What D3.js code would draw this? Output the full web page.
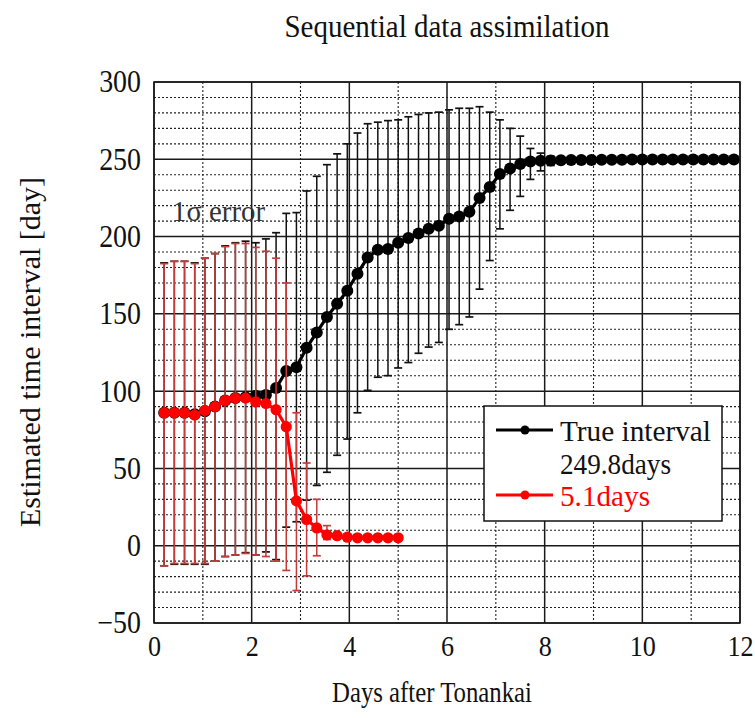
<!DOCTYPE html>
<html lang="en">
<head>
	<meta charset="UTF-8">
	<title>Sequential data assimilation</title>
	<style>
	body{ margin:0; background:#fff; }
	text{ font-family:"Liberation Serif","Times New Roman",serif; fill:#111; }
	</style>
</head>
<body>
<div class="chart"></div>
<script src="https://d3js.org/d3.v7.min.js"></script>
<script>
// time step of the assimilation is 5 hours
var hours = [5,10,15,20,25,30,35,40,45,50,55,60,65,70,75,80,85,90,95,100,
	105,110,115,120,125,130,135,140,145,150,155,160,165,170,175,180,185,190,195,200,
	205,210,215,220,225,230,235,240,245,250,255,260,265,270,275,280,285];

// true interval 249.8 days (black)
var trueMean = [86,86,86,85,87,90,94,95.5,96,97,
	97.5,102,113,115.5,128,138,148,156.5,165,176,
	186.5,191.5,192,196,199,202,205,207,211.5,213,
	216,225,232,240.5,244,247,248.5,249,249.2,249.4,
	249.5,249.6,249.6,249.7,249.7,249.7,249.8,249.8,249.8,249.8,
	249.8,249.8,249.8,249.8,249.8,249.8,249.8];
var trueHi = [183,184,184,183,186,189,194,196,197,196,
	198.5,202.5,215,215.5,229.5,239,246.5,253.5,260,267,
	273,274,275,275.5,277.5,279,280,280.5,282,283,
	283,284,280.5,275.5,270,265,257,254,252];
var trueLo = [-13,-12,-12,-12,-12,-10,-7,-6,-4.5,-6,
	-4,-9,12,15.5,29.5,39,47.5,58.5,69,86,
	100.5,109,110,115,118.5,124.5,128.5,131.5,140,143,
	148,166,184.5,205,217,226,237,242.5,246];

// true interval 5.1 days (red)
var shortMean = [86,86,86,84.5,87.5,90,94,95.5,95.5,93,
	92,88,77,29,17,11.5,7,6.5,5.5,5.1,5.1,5.1,5.1,5.1];
var shortHi = [182.5,184,184,182.5,186,189,193.5,195.5,195.5,193,
	190.5,186,170,86,53.5,30,13,8.5,6.5,6,6,6,6,6];
var shortLo = [-13,-11.5,-11.5,-11.5,-11.5,-10,-7,-6,-5,-6,
	-7,-10,-16,-29,-19.5,-6.5,4,4.5,4.5,4.5,4.5,4.5,4.5,4.5];

var xTicks = [0,2,4,6,8,10,12];
var yTicks = [-50,0,50,100,150,200,250,300];

var W = 755, H = 718;
var plot = {left:154, right:740, top:82, bottom:623};

var svg = d3.select('.chart')
	.append('svg')
	.attr('width',W)
	.attr('height',H);

var x = d3.scaleLinear().domain([0,12]).range([plot.left,plot.right]);
var y = d3.scaleLinear().domain([-50,300]).range([plot.bottom,plot.top]);

// grid
var xMinor = d3.range(1,12,2);
var yMinor = d3.range(-50,300,10).filter(function(v){ return v % 50 !== 0; });

var grid = svg.append('g');
grid.selectAll('.ym').data(yMinor).join('line')
	.attr('x1',plot.left).attr('x2',plot.right)
	.attr('y1',y).attr('y2',y)
	.style('stroke','#222').style('stroke-width',1.1).style('stroke-dasharray','2,2');
grid.selectAll('.xm').data(xMinor).join('line')
	.attr('y1',plot.top).attr('y2',plot.bottom)
	.attr('x1',x).attr('x2',x)
	.style('stroke','#222').style('stroke-width',1.1).style('stroke-dasharray','2,2');
grid.selectAll('.yM').data(yTicks).join('line')
	.attr('x1',plot.left).attr('x2',plot.right)
	.attr('y1',y).attr('y2',y)
	.style('stroke','#1a1a1a').style('stroke-width',1.5);
grid.selectAll('.xM').data(xTicks).join('line')
	.attr('y1',plot.top).attr('y2',plot.bottom)
	.attr('x1',x).attr('x2',x)
	.style('stroke','#1a1a1a').style('stroke-width',1.5);

// axes (labels only)
var yAxis = svg.append('g')
	.attr('transform',`translate(${plot.left},0)`)
	.call(d3.axisLeft(y).tickValues(yTicks).tickSize(0).tickPadding(13));
var xAxis = svg.append('g')
	.attr('transform',`translate(0,${plot.bottom})`)
	.call(d3.axisBottom(x).tickValues(xTicks).tickSize(0).tickPadding(12));
[yAxis,xAxis].forEach(function(a){
	a.select('.domain').remove();
	a.attr('font-family',null).attr('font-size',null);
	a.selectAll('text').attr('class','sq').style('fill','#111');
});
yAxis.selectAll('text').style('font-size','31px');
xAxis.selectAll('text').style('font-size','29px');

function drawSeries(mean,hi,lo,lineColor,barColor,r){
	var pts = mean.map(function(v,i){ return {t:hours[i]/24, v:v, hi:hi[i], lo:lo[i]}; });
	var g = svg.append('g');
	var bars = pts.filter(function(d){ return d.hi != null; });
	g.selectAll('.eb').data(bars).join('line')
		.attr('x1',d => x(d.t)).attr('x2',d => x(d.t))
		.attr('y1',d => y(d.lo)).attr('y2',d => y(d.hi))
		.style('stroke',barColor).style('stroke-width',1.5);
	['hi','lo'].forEach(function(k){
		g.selectAll('.cap-'+k).data(bars).join('line')
			.attr('x1',d => x(d.t)-4).attr('x2',d => x(d.t)+4)
			.attr('y1',d => y(d[k])).attr('y2',d => y(d[k]))
			.style('stroke',barColor).style('stroke-width',1.7);
	});
	g.append('path').datum(pts)
		.attr('d',d3.line().x(d => x(d.t)).y(d => y(d.v)))
		.style('fill','none').style('stroke',lineColor).style('stroke-width',3.2);
	g.selectAll('circle').data(pts).join('circle')
		.attr('cx',d => x(d.t)).attr('cy',d => y(d.v)).attr('r',r)
		.style('fill',lineColor);
}
drawSeries(trueMean,trueHi,trueLo,'#000','#111',6);
drawSeries(shortMean,shortHi,shortLo,'#ff0000','#c83a3a',5.6);

// frame
svg.append('rect')
	.attr('x',plot.left).attr('y',plot.top)
	.attr('width',plot.right-plot.left).attr('height',plot.bottom-plot.top)
	.style('fill','none').style('stroke','#1a1a1a').style('stroke-width',1.5);

function label(sel,len){
	return sel.attr('textLength',len).attr('lengthAdjust','spacingAndGlyphs');
}

label(svg.append('text')
	.attr('x',172).attr('y',221)
	.style('font-size','30px').style('fill','#333')
	.text('1σ error'),93);

// legend
var leg = svg.append('g');
leg.append('rect')
	.attr('x',484).attr('y',406).attr('width',238).attr('height',115)
	.style('fill','#fff').style('stroke','#111').style('stroke-width',1.5);
[{c:'#000', y:430}, {c:'#ff0000', y:495}].forEach(function(s){
	leg.append('line').attr('x1',496).attr('x2',553).attr('y1',s.y).attr('y2',s.y)
		.style('stroke',s.c).style('stroke-width',3);
	leg.append('circle').attr('cx',525).attr('cy',s.y).attr('r',4.5).style('fill',s.c);
});
label(leg.append('text').attr('x',560).attr('y',441).style('font-size','30px').text('True interval'),151);
label(leg.append('text').attr('x',560).attr('y',474).style('font-size','30px').text('249.8days'),111);
label(leg.append('text').attr('x',560).attr('y',506).style('font-size','30px').style('fill','#ff0000').text('5.1days'),90);

// titles
label(svg.append('text')
	.attr('x',447).attr('y',37).attr('text-anchor','middle')
	.style('font-size','31px').text('Sequential data assimilation'),325);
label(svg.append('text')
	.attr('x',432).attr('y',702).attr('text-anchor','middle')
	.style('font-size','29px').text('Days after Tonankai'),200);
label(svg.append('text')
	.attr('transform','translate(40,352) rotate(-90)').attr('text-anchor','middle')
	.style('font-size','29px').text('Estimated time interval [day]'),350);

// tick labels: the original picture is a little squeezed horizontally
svg.selectAll('text.sq').each(function(){
	var len = this.getComputedTextLength();
	d3.select(this).attr('textLength',len*0.9).attr('lengthAdjust','spacingAndGlyphs');
});
</script>
</body>
</html>
